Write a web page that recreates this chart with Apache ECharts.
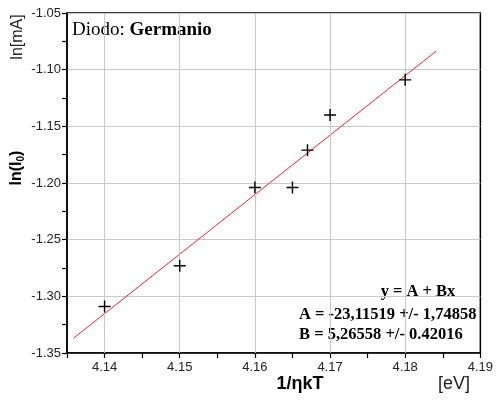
<!DOCTYPE html>
<html>
<head>
<meta charset="utf-8">
<script src="https://cdn.jsdelivr.net/npm/echarts@6/dist/echarts.min.js"></script>
<style>
  html, body { margin: 0; padding: 0; background: #fff; }
  #chart { width: 496px; height: 408px; }
</style>
</head>
<body>
<div id="chart"></div>
<script>
// measured points, ln(I0) vs 1/nkT
const xValues = [4.14, 4.15, 4.16, 4.165, 4.167, 4.17, 4.18]
const yValues = [-1.309, -1.273, -1.204, -1.204, -1.171, -1.140, -1.109]

// linear fit end points
const fitX = [4.1359, 4.1841]
const fitY = [-1.3368, -1.0838]

// vertical grid lines
const xGrid = [4.14, 4.15, 4.16, 4.17, 4.18]

const fitText = ['y = A + Bx', 'A = -23,11519 +/- 1,74858', 'B = 5,26558 +/- 0.42016']

const chart = echarts.init(document.getElementById('chart'))

const sans = 'Liberation Sans, Arial, sans-serif'
const serif = 'Liberation Serif, Times New Roman, serif'

const option = {
  animation: false,
  grid: {
    left: 67, right: 12, top: 13, bottom: 55,
    show: true,
    borderColor: '#000',
    borderWidth: 1.5
  },
  xAxis: {
    type: 'value',
    min: 4.135,
    max: 4.19,
    interval: 0.005,
    axisLine: { show: true, onZero: false, lineStyle: { color: '#000', width: 1.5 } },
    axisTick: { show: true, length: 5, lineStyle: { color: '#000', width: 1.2 } },
    axisLabel: {
      color: '#222', fontFamily: sans, fontSize: 13, margin: 8,
      formatter: v => {
        const k = v * 100
        return Math.abs(k - Math.round(k)) < 1e-6 ? v.toFixed(2) : ''
      }
    },
    splitLine: { show: false }
  },
  yAxis: {
    type: 'value',
    min: -1.35,
    max: -1.05,
    interval: 0.05,
    axisLine: { show: true, onZero: false, lineStyle: { color: '#000', width: 1.5 } },
    axisTick: { show: true, length: 5, lineStyle: { color: '#000', width: 1.2 } },
    minorTick: { show: true, splitNumber: 2, length: 5, lineStyle: { color: '#000', width: 1.2 } },
    axisLabel: {
      color: '#222', fontFamily: sans, fontSize: 13, margin: 6,
      formatter: v => v.toFixed(2)
    },
    splitLine: { show: true, lineStyle: { color: '#c8c8c8', width: 1 } }
  },
  series: [
    {
      // carries only the vertical grid lines, kept below the marks
      type: 'line',
      data: [],
      z: 1,
      markLine: {
        silent: true,
        symbol: 'none',
        label: { show: false },
        lineStyle: { color: '#c8c8c8', width: 1, type: 'solid' },
        data: xGrid.map(x => ({ xAxis: x }))
      }
    },
    {
      type: 'line',
      data: fitX.map((x, i) => [x, fitY[i]]),
      symbol: 'none',
      lineStyle: { color: '#ff2020', width: 1 },
      z: 3
    },
    {
      type: 'scatter',
      data: xValues.map((x, i) => [x, yValues[i]]),
      symbol: 'path://M0,4.4 h10 v1.2 h-10z M4.4,0 h1.2 v10 h-1.2z',
      symbolSize: 12,
      itemStyle: { color: '#000', opacity: 1 },
      z: 5
    }
  ],
  graphic: [
    {
      type: 'text', left: 72, top: 21,
      style: {
        text: '{a|Diodo: }{b|Germanio}',
        rich: {
          a: { fontFamily: serif, fontSize: 19, fill: '#000' },
          b: { fontFamily: serif, fontSize: 19, fontWeight: 'bold', fill: '#000' }
        }
      }
    },
    {
      type: 'text', x: 18, y: 37, rotation: Math.PI / 2,
      style: {
        text: 'ln[mA]', fontFamily: sans, fontSize: 16, fill: '#222',
        align: 'center', verticalAlign: 'middle'
      }
    },
    {
      type: 'text', x: 17, y: 168, rotation: Math.PI / 2,
      style: {
        text: '{b|ln(I}{s|0}{b|)}',
        align: 'center', verticalAlign: 'middle',
        rich: {
          b: { fontFamily: sans, fontSize: 16, fontWeight: 'bold', fill: '#000' },
          s: { fontFamily: sans, fontSize: 10, fontWeight: 'bold', fill: '#000', padding: [8, 0, 0, 0] }
        }
      }
    },
    {
      type: 'text', x: 300, y: 384,
      style: {
        text: '1/ηkT', fontFamily: sans, fontSize: 18, fontWeight: 'bold', fill: '#000',
        align: 'center', verticalAlign: 'middle'
      }
    },
    {
      type: 'text', x: 454, y: 384,
      style: {
        text: '[eV]', fontFamily: sans, fontSize: 18, fill: '#222',
        align: 'center', verticalAlign: 'middle'
      }
    },
    {
      type: 'text', x: 418, y: 292,
      style: {
        text: fitText[0], fontFamily: serif, fontSize: 16.5, fontWeight: 'bold', fill: '#000',
        align: 'center', verticalAlign: 'middle'
      }
    },
    {
      type: 'text', x: 299, y: 315,
      style: {
        text: fitText[1], fontFamily: serif, fontSize: 16.5, fontWeight: 'bold', fill: '#000',
        align: 'left', verticalAlign: 'middle'
      }
    },
    {
      type: 'text', x: 299, y: 335,
      style: {
        text: fitText[2], fontFamily: serif, fontSize: 16.5, fontWeight: 'bold', fill: '#000',
        align: 'left', verticalAlign: 'middle'
      }
    }
  ]
}

chart.setOption(option)
window.addEventListener('resize', chart.resize)
</script>
</body>
</html>
